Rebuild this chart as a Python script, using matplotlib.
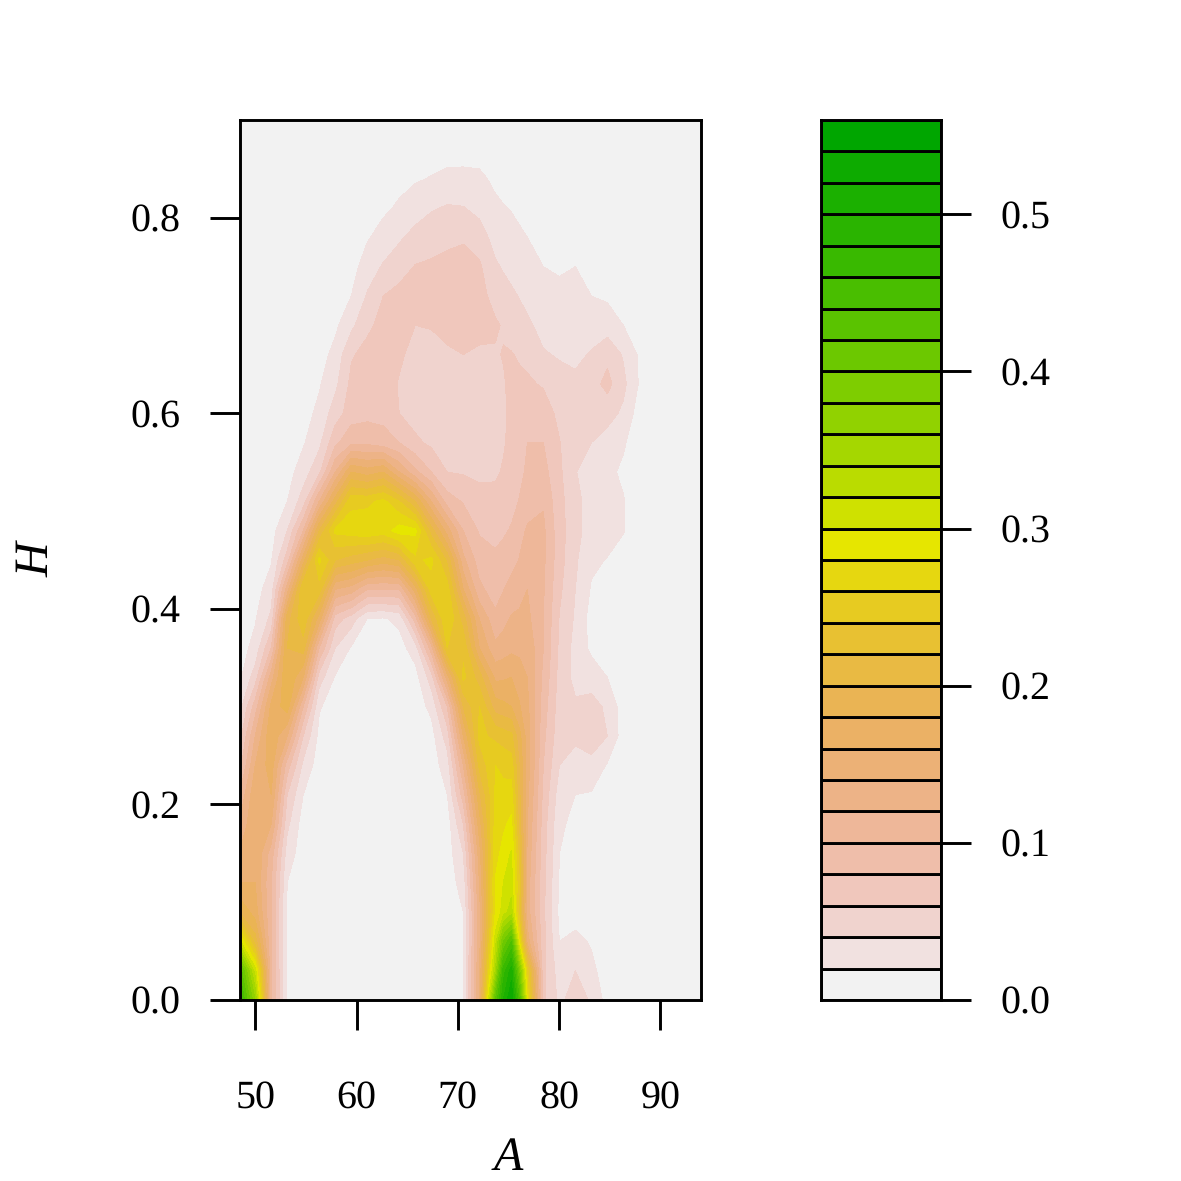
#!/usr/bin/env python3
import colorsys
import matplotlib
matplotlib.use("Agg")
import matplotlib.pyplot as plt
import numpy as np

plt.rcParams['font.family'] = ['Liberation Serif', 'DejaVu Serif']
plt.rcParams['text.hinting'] = 'none'
plt.rcParams['text.hinting_factor'] = 1

# density, in hundredths, one list per A value, from H = 0 upward
a_vals = [48.42, 50, 51.58, 53.16, 54.74, 56.32, 57.9, 59.48, 61.06, 62.64, 64.22, 65.8, 67.38, 68.96,
          70.54, 72.12, 73.7, 74.49, 75.28, 76.07, 76.86, 78.44, 80.02, 81.6, 83.18, 84.76, 86.34, 87.92,
          89.5, 94]
h_vals = [0, .03, .06, .09, .12, .15, .18, .21, .24, .27, .30, .33, .36, .39, .42, .45, .48, .51, .54,
          .57, .60, .63, .66, .69, .72, .75, .78, .81, .84, .87, .90]
dens_cols = [
    [48, 44, 31, 20, 16, 14, 12, 10, 7, 5, 3, 1.5],
    [36, 31, 21, 17, 16, 16, 16, 15.5, 14, 12, 9, 5, 2.7, 1.8, 1.2],
    [10, 10, 10, 10, 10, 11, 14, 16, 17, 17.5, 16.5, 13, 8, 4.5, 3, 1.8, 1.2],
    [1.8, 1.8, 1.6, 1.6, 2, 3, 4.5, 6, 9, 14, 19, 20, 20, 19, 13, 7, 4, 2, 1.2],
    [1] * 7 + [2, 3.5, 6, 10, 16, 21, 23.5, 24, 17, 10, 5, 3, 1.8, 1.2],
    [1] * 9 + [1.4, 2.2, 5, 10, 17, 23, 26.5, 20, 12, 5.5, 3.5, 2.5, 1.8, 1.2],
    [1] * 11 + [1.8, 4, 7, 14, 22, 26.5, 19, 12, 7.5, 5, 3.5, 2.6, 1.6, 1.2],
    [1] * 12 + [1.8, 5, 13, 21, 27, 25.5, 18, 9.5, 7, 6.5, 5.8, 3.5, 2, 1.2],
    [1] * 12 + [1.2, 2, 10, 20, 27.5, 25.5, 17, 9.5, 7.4, 7.2, 6.6, 5.6, 4.2, 3, 1.8, 1.2],
    [1] * 12 + [1.2, 1.8, 10, 19, 27, 26.5, 18, 8.8, 7.4, 7.2, 7, 6.6, 6, 4.2, 2.8, 1.6, 1.2],
    [1] * 12 + [1.2, 2.5, 10, 20, 29, 24, 14, 8, 6, 5.8, 6.4, 7, 6.6, 5.2, 3.7, 2.3, 1.4],
    [1] * 11 + [1.2, 3, 9, 17, 25.5, 28.5, 20, 10.5, 6.4, 5.2, 5, 5.2, 6, 7, 6.1, 4.7, 3, 1.8, 1.2],
    [1] * 9 + [1.2, 2.5, 5, 11, 20, 25, 26.5, 21, 14, 8, 5.6, 5, 4.5, 4.8, 6.2, 7, 6.3, 5.2, 3.8, 2.1, 1.2],
    [1] * 7 + [2, 3, 5, 8, 15, 24, 26, 25, 21.5, 15, 9, 6, 5.4, 5, 4.8, 5.8, 6.4, 7, 6.5, 5.6, 4.2, 2.5, 1.2],
    [1.9, 1.9, 1.9, 2, 2.8, 4, 6, 9, 12, 16, 20, 24.5, 23.5, 21, 16, 12.5, 10, 7.8, 5.8, 5, 4.6, 4.7, 6, 6.8,
     7.2, 7, 5.7, 4.1, 2.4, 1.4],
    [14, 14, 13, 13, 14, 15, 17, 19.5, 22.5, 24.5, 24, 21, 16, 14, 10.5, 9, 7.8, 6.5, 5.7, 5.2, 5, 5, 5.8, 6.4,
     6.8, 6.3, 5, 3.4, 2.3, 1.4],
    [42, 34, 31, 28, 28.2, 27.2, 26.8, 26.2, 26, 23.5, 19, 15.5, 12.5, 10.5, 9, 8.5, 7.2, 6.6, 5.7, 5.2, 5, 5.2,
     5.8, 6.3, 5.2, 4.3, 3.2, 2.3, 1.7, 1.2],
    [50, 47, 40, 31, 30, 28.7, 27.6, 26.6, 25.5, 23, 18.5, 15.7, 13, 11.3, 9.9, 8.8, 7.7, 6.9, 6.2, 5.8, 5.7, 5.8,
     6.1, 5.8, 4.8, 3.8, 2.9, 2.1, 1.4, 1.1],
    [54, 51, 44, 33, 31, 30.2, 28.5, 27, 25, 22.5, 18, 16, 13.5, 12.2, 10.8, 9.2, 8.2, 7.3, 6.8, 6.5, 6.4, 6.5,
     6.1, 5.3, 4.4, 3.3, 2.6, 1.9, 1.2],
    [44, 39, 28, 23, 24, 23, 21, 20.5, 20, 18.7, 16.2, 15, 13.5, 12.3, 11.4, 10.1, 9.2, 8.1, 7.5, 7.2, 6.7, 6.4,
     5.8, 4.8, 3.9, 2.9, 2.3, 1.6, 1.1],
    [28, 25, 15, 13, 13, 13.5, 14, 14.5, 15, 15, 14.5, 14, 13.5, 12.5, 12, 11, 10.3, 9, 8.3, 8, 7, 6.3, 5.5, 4.4,
     3.4, 2.6, 2, 1.4, 1.1],
    [6.5, 6.5, 6.5, 6.5, 6.5, 6.8, 7, 7.5, 8, 8.5, 9, 9.5, 10, 10, 10.2, 10.4, 10.4, 9.8, 8.7, 8, 7, 5.8, 4.2, 3.3,
     2.6, 2, 1.4, 1.1],
    [3.5, 3, 2, 1.5, 1.8, 2, 2.4, 3, 4, 4.7, 5, 5.3, 5.6, 5.9, 6.4, 6.8, 6.8, 6.6, 6.4, 6.1, 5.5, 4.8, 3.8, 3, 2.4,
     1.8, 1.4, 1.1],
    [5, 4, 2.5, 1.2, 1, 1.1, 1.4, 2, 3.6, 4.2, 4.3, 3.4, 3.3, 3.7, 4, 4.3, 4.7, 4.7, 4.1, 4.5, 4.8, 4.5, 3.5, 2.8,
     2.3, 2, 1.2],
    [3.75, 2.5, 1.8, 1.1, 1, 1, 1, 1.8, 3.6, 4.7, 4.8, 3, 1.6, 1.2, 1.8, 2.4, 3, 3, 3, 4, 4.6, 5.2, 4.2, 3, 2, 1.3],
    [1.2] + [1] * 7 + [1.8, 4, 3.6, 2, 1.2, 1.1, 1.2, 1.9, 2.8, 2.8, 2.4, 3.1, 4.8, 6.6, 5.5, 3, 1.7, 1.1],
    [1] * 15 + [1.2, 2.1, 2.1, 1.7, 2.2, 3.6, 4.5, 3.8, 2, 1.2],
    [1] * 21 + [1.8, 1.7, 1.1],
    [1],
    [1],
]
x_ticks = [50, 60, 70, 80, 90]
y_ticks = [0.0, 0.2, 0.4, 0.6, 0.8]
key_ticks = [0.0, 0.1, 0.2, 0.3, 0.4, 0.5]
level_step = 0.02
level_top = 0.56


def terrain_colors(n):
    # same ramp as R's terrain.colors
    k = n // 2
    hs = np.concatenate([np.linspace(4 / 12, 2 / 12, k), np.linspace(2 / 12, 0, n - k + 1)[1:]])
    ss = np.concatenate([np.linspace(1, 1, k), np.linspace(1, 0, n - k + 1)[1:]])
    vs = np.concatenate([np.linspace(0.65, 0.9, k), np.linspace(0.9, 0.95, n - k + 1)[1:]])
    return [colorsys.hsv_to_rgb(h, s, v) for h, s, v in zip(hs, ss, vs)]


W = 1181
z = np.array([c + [1] * (len(h_vals) - len(c)) for c in dens_cols]).T / 100
levels = np.arange(0, level_top + level_step / 2, level_step)
cols = terrain_colors(len(levels) - 1)[::-1]

fig = plt.figure(figsize=(W / 300, W / 300), dpi=300)
lw = 0.7
ax = fig.add_axes([240 / W, 1 - 1000 / W, 461 / W, 880 / W])
ax.contourf(a_vals, h_vals, z, levels=levels, colors=cols, extend='neither')
ax.set_xlim(48.5, 94)
ax.set_ylim(0, 0.9)
ax.set_xticks(x_ticks)
ax.set_yticks(y_ticks)
ax.set_yticklabels(['%.1f' % v for v in y_ticks])
ax.tick_params(axis='x', length=7.2, width=lw, pad=12.2, labelsize=9.6)
ax.tick_params(axis='y', length=7.2, width=lw, pad=7, labelsize=9.6)
for s in ax.spines.values():
    s.set_linewidth(lw)

cax = fig.add_axes([821 / W, 1 - 1000 / W, 120 / W, 880 / W])
cax.barh(levels[:-1], 1, height=level_step, align='edge', color=cols, edgecolor='black', linewidth=lw)
cax.set_xlim(0, 1)
cax.set_ylim(0, level_top)
cax.set_xticks([])
cax.yaxis.tick_right()
cax.set_yticks(key_ticks)
cax.set_yticklabels(['%.1f' % v for v in key_ticks])
cax.tick_params(axis='y', length=7.2, width=lw, pad=7, labelsize=9.6)
for s in cax.spines.values():
    s.set_linewidth(lw)

fig.text(508 / W, 1 - 1158 / W, 'A', style='italic', fontsize=11.5, ha='center', va='center')
fig.text(37 / W, 1 - 560 / W, 'H', style='italic', fontsize=11.5, ha='center', va='center', rotation=90)

fig.savefig('out.png', dpi=300)
plt.close(fig)
